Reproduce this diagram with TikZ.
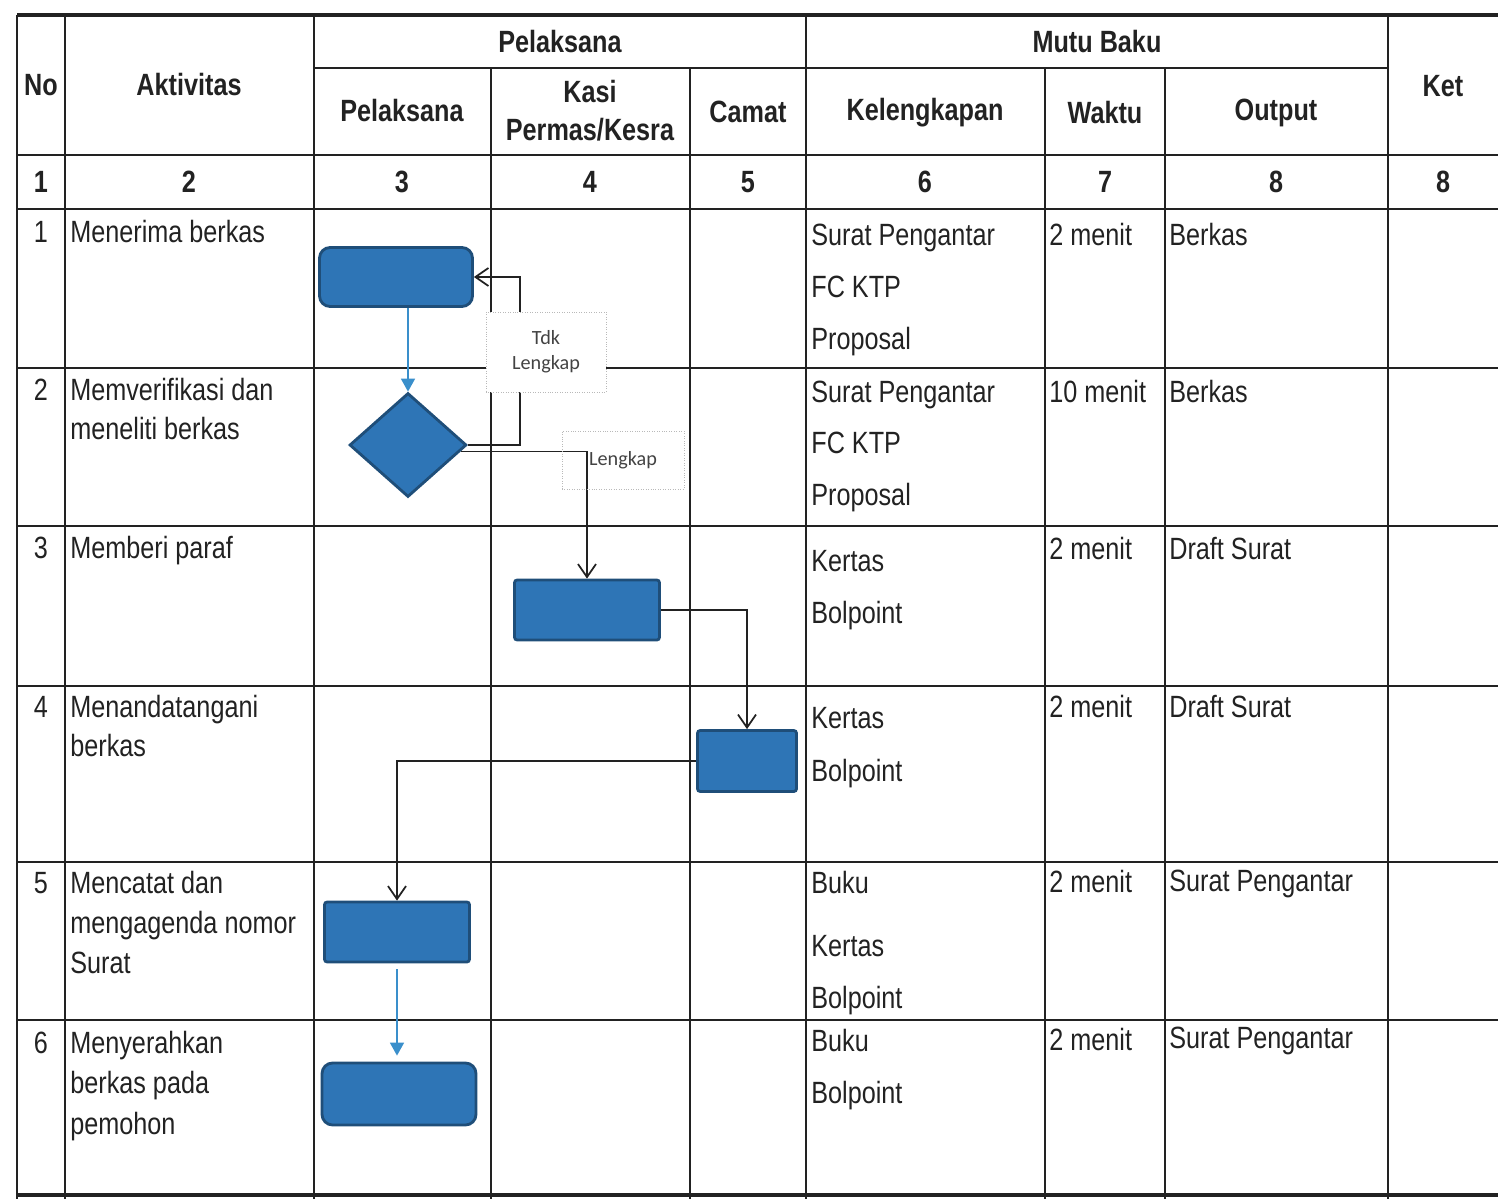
\documentclass[tikz,border=0pt]{standalone}
\usepackage{fontspec}
\setmainfont{Liberation Sans}[FakeStretch=0.82]
\newfontfamily\notefont{Carlito}
\usetikzlibrary{shapes.geometric, positioning, arrows.meta}
\definecolor{BoxBlue}{HTML}{2E75B6}
\definecolor{BoxEdge}{HTML}{1F4E79}
\definecolor{FlowBlue}{HTML}{3A8FCB}
\definecolor{InkGray}{HTML}{222222}

\tikzset{
  gridline/.style={line width=1.2pt, InkGray},
  heavyline/.style={line width=2.6pt, InkGray},
  hdr/.style={font=\fontsize{17.5}{21.5}\selectfont\bfseries, align=center, text=InkGray},
  cell/.style={font=\fontsize{17.5}{21}\selectfont, anchor=west, inner sep=0pt, text height=12.5pt, text depth=0pt, text=InkGray},
  proc/.style={draw=BoxEdge, fill=BoxBlue, line width=1.6pt, rounded corners=1.5pt, minimum width=2.9cm, minimum height=1.2cm},
  procround/.style={proc, rounded corners=6pt, minimum width=3.06cm, minimum height=1.18cm},
  decision/.style={diamond, draw=BoxEdge, fill=BoxBlue, line width=1.6pt, inner sep=0pt, minimum width=2.34cm, minimum height=2.08cm},
  notebox/.style={draw=gray!55, densely dotted, font=\notefont\fontsize{11.5}{14}\selectfont, align=center, text=InkGray!85},
  flow/.style={draw=InkGray, line width=1pt, -{Straight Barb[length=2.6mm, width=3.6mm]}},
  blueflow/.style={draw=FlowBlue, line width=1pt, -{Triangle[length=2.6mm, width=2.8mm]}}
}

\begin{document}
\begin{tikzpicture}[x=0.02cm, y=-0.02cm]
  \useasboundingbox (0,0) rectangle (1498,1199);

  % table frame
  \draw[heavyline] (17,15) -- (1498,15);
  \draw[heavyline] (17,1195) -- (1498,1195);
  \foreach \x in {17,65,314,806,1388}
    \draw[gridline] (\x,15) -- (\x,1199);
  \foreach \x in {491,690,1045,1165}
    \draw[gridline] (\x,68) -- (\x,1199);
  \draw[gridline] (314,68) -- (1388,68);
  \foreach \y in {155,209,368,526,686,862,1020}
    \draw[gridline] (17,\y) -- (1498,\y);

  % header
  \node[hdr] (hno) at (41,85) {No};
  \node[hdr] (hakt) at (189,85) {Aktivitas};
  \node[hdr] (hpel) at (560,42) {Pelaksana};
  \node[hdr] (hmutu) at (1097,42) {Mutu Baku};
  \node[hdr] (hket) at (1443,86) {Ket};
  \node[hdr] (hpel2) at (402,111) {Pelaksana};
  \node[hdr] (hkasi) at (590,111) {Kasi\\Permas/Kesra};
  \node[hdr] (hcamat) at (748,112) {Camat};
  \node[hdr] (hkel) at (925,113) {Kelengkapan};
  \node[hdr] (hwaktu) at (1105,113) {Waktu};
  \node[hdr] (hout) at (1276,113) {Output};
  \foreach \x/\n [count=\i] in {41/1,189/2,402/3,590/4,748/5,925/6,1105/7,1276/8,1443/8}
    \node[hdr] (num\i) at (\x,182) {\n};

  % rows
  \foreach \y [count=\i] in {232,390,548,707,883,1043}
    \node[cell, anchor=center] (no\i) at (41,\y) {\i};
  \foreach \y/\t [count=\i] in {232/Menerima berkas, 390/Memverifikasi dan, 429/meneliti berkas,
      548/Memberi paraf, 707/Menandatangani, 746/berkas, 883/Mencatat dan, 923/mengagenda nomor,
      963/Surat, 1043/Menyerahkan, 1083/berkas pada, 1124/pemohon}
    \node[cell] (akt\i) at (70,\y) {\t};
  \foreach \y/\t [count=\i] in {235/Surat Pengantar, 287/FC KTP, 339/Proposal, 392/Surat Pengantar,
      443/FC KTP, 495/Proposal, 561/Kertas, 613/Bolpoint, 718/Kertas, 771/Bolpoint, 883/Buku,
      946/Kertas, 998/Bolpoint, 1041/Buku, 1093/Bolpoint}
    \node[cell] (kel\i) at (811,\y) {\t};
  \foreach \y/\t [count=\i] in {235/2 menit, 392/10 menit, 549/2 menit, 707/2 menit, 882/2 menit, 1040/2 menit}
    \node[cell] (wkt\i) at (1049,\y) {\t};
  \foreach \y/\t [count=\i] in {235/Berkas, 392/Berkas, 549/Draft Surat, 707/Draft Surat,
      881/Surat Pengantar, 1038/Surat Pengantar}
    \node[cell] (out\i) at (1169,\y) {\t};

  % flow shapes
  \node[procround] (terima) at (396,277) {};
  \node[decision] (verif) at (408,445) {};
  \node[proc] (paraf) at (587,610) {};
  \node[proc, minimum width=1.98cm, minimum height=1.22cm] (ttd) at (747,761) {};
  \node[proc] (catat) at (397,932) {};
  \node[procround, minimum width=3.08cm, minimum height=1.24cm] (serah) at (399,1094) {};

  % connectors
  \draw[blueflow] (terima.south -| verif.north) -- (verif.north);
  \draw[flow] (verif.east) -- ++(52,0) |- (terima.east);
  \draw[flow] (verif.-7) -| (paraf.north);
  \draw[flow] (paraf.east) -| (ttd.north);
  \draw[flow] (ttd.west) -| (catat.north);
  \draw[blueflow, shorten <=0.12cm, shorten >=0.12cm] (catat.south) -- (catat.south |- serah.north);

  % labels
  \node[notebox, fill=white, minimum width=2.4cm, minimum height=1.6cm] (tdk) at (546,352) {Tdk\\Lengkap};
  \node[notebox, minimum width=2.44cm, minimum height=1.16cm] (lkp) at (623,460) {Lengkap};
\end{tikzpicture}
\end{document}
